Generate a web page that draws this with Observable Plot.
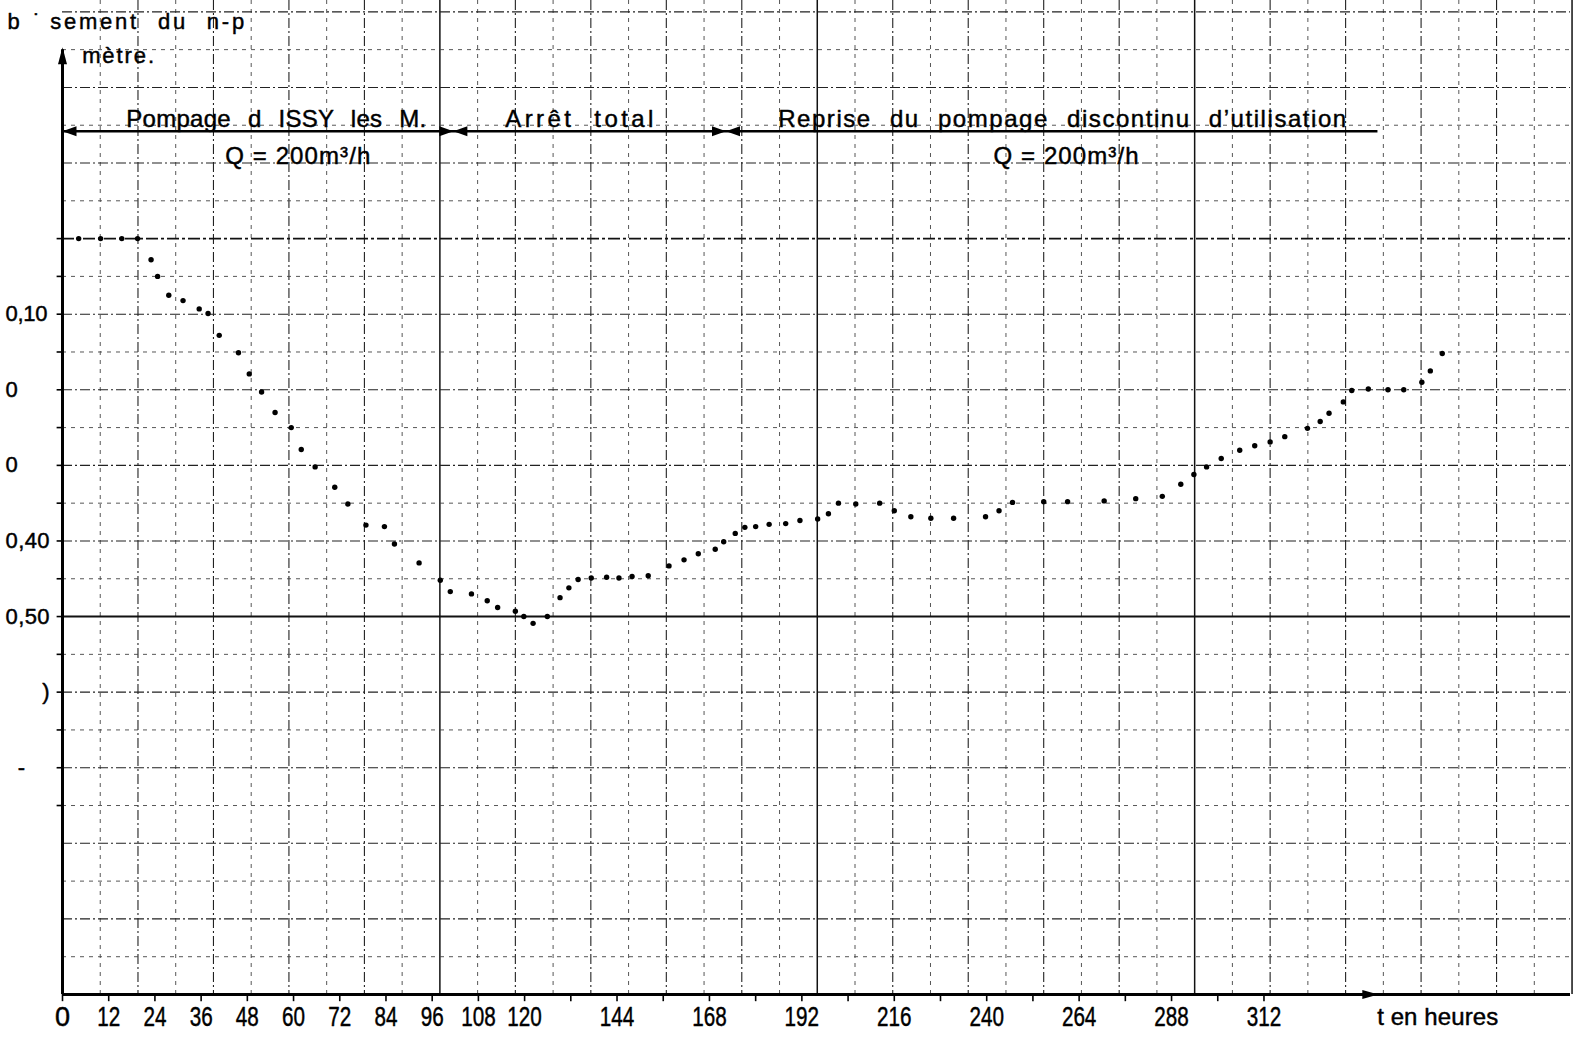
<!DOCTYPE html>
<html>
<head>
<meta charset="utf-8">
<script src="https://cdn.jsdelivr.net/npm/d3@7"></script>
<script src="https://cdn.jsdelivr.net/npm/@observablehq/plot@0.6"></script>
<style>
  html, body { margin: 0; padding: 0; background: #fff; }
  #chart svg { display: block; }
</style>
</head>
<body>
<div id="chart"></div>
<script>
// ---- data (time in hours, drawdown "rabattement" in metres) ----
const hours = [4.2, 9.9, 15.4, 19.5, 23.0, 24.7, 27.6, 31.3, 35.5, 37.8,
  40.7, 45.7, 48.5, 51.7, 55.2, 59.4, 62.0, 65.6, 70.7, 74.1,
  78.8, 83.6, 86.2, 92.6, 98.1, 100.7, 106.2, 110.3, 113.0, 117.6,
  119.8, 122.2, 125.9, 129.2, 131.5, 133.9, 137.3, 141.3, 144.5, 147.9,
  152.1, 157.5, 161.4, 165.1, 169.5, 171.7, 174.7, 177.2, 180.0, 183.5,
  187.8, 191.5, 196.1, 198.9, 201.5, 206.0, 212.2, 216.0, 220.3, 225.5,
  231.4, 239.7, 243.2, 246.7, 254.8, 261.0, 270.5, 278.7, 285.6, 290.4,
  293.8, 297.1, 300.9, 305.7, 309.6, 313.6, 317.4, 323.3, 326.6, 328.9,
  332.6, 334.8, 339.1, 344.2, 348.3, 353.0, 355.2, 358.3];
const drawdown = [0, 0, 0, 0, 0.028, 0.050, 0.075, 0.082, 0.093, 0.099,
  0.128, 0.151, 0.179, 0.203, 0.230, 0.250, 0.279, 0.302, 0.329, 0.351,
  0.379, 0.381, 0.404, 0.429, 0.452, 0.467, 0.470, 0.479, 0.488, 0.493,
  0.500, 0.509, 0.500, 0.475, 0.462, 0.451, 0.449, 0.448, 0.449, 0.447,
  0.446, 0.433, 0.425, 0.417, 0.411, 0.401, 0.390, 0.382, 0.381, 0.378,
  0.377, 0.373, 0.371, 0.364, 0.350, 0.351, 0.350, 0.360, 0.368, 0.370,
  0.370, 0.368, 0.360, 0.349, 0.348, 0.348, 0.347, 0.344, 0.341, 0.325,
  0.312, 0.302, 0.291, 0.280, 0.274, 0.269, 0.262, 0.251, 0.242, 0.231,
  0.216, 0.201, 0.199, 0.200, 0.200, 0.190, 0.175, 0.152];

// x tick marks every 12 h; labels as printed
const xTickHours = d3.range(0, 313, 12);
const xTickLabels = [0, 12, 24, 36, 48, 60, 72, 84, 96, 108, 120, 144, 168, 192, 216, 240, 264, 288, 312];
const xTitle = "t en heures";

// y tick labels as they survive on the scan
const yTickValues = [0.10, 0.20, 0.30, 0.40, 0.50, 0.60, 0.70];
const yTickLabels = ["0,10", "0", "0", "0,40", "0,50", "\u2007\u2007\u2007)", "\u2007-"];
const yTickMarks = d3.range(0, 16).map(i => +(i * 0.05).toFixed(2));

// phases of the test (boundaries in hours) and their labels
const phaseBounds = [0, 101.5, 172.3, 341.6];
const phaseLabels = ["Pompage d ISSY les M.", "Arrêt total", "Reprise du pompage discontinu d\u2019utilisation"];
const phaseLabelAt = [55.5, 134.2, 259.6];
const flowLabels = ["Q = 200m\u00b3/h", "Q = 200m\u00b3/h"];
const flowLabelAt = [61.1, 260.6];

const headerText = ["b", "\u02d9", "sement du n-p"];
const headerAt = [-14.3, -7.6, -3.2];
const unitText = "mètre.";

// graph paper: one cell = 9.8 h by 0.05 m
const cellHours = 9.8, cellMetres = 0.05;
const paperV = d3.range(0, 41).map(i => ({x: i * cellHours, k: i % 10 === 0 ? 2 : i % 2 === 0 ? 1 : 0}));
const paperH = d3.range(-6, 21).map(i => ({y: +(i * cellMetres).toFixed(2), k: i === 0 ? 3 : i % 10 === 0 ? 2 : i % 2 === 0 ? 1 : 0}));

// ---- filled arrowheads ----
function head(dir, L, Wd) {
  return {draw(ctx) {
    ctx.moveTo(0, 0);
    if (dir === "right") { ctx.lineTo(-L, -Wd); ctx.lineTo(-L, Wd); }
    else if (dir === "left") { ctx.lineTo(L, -Wd); ctx.lineTo(L, Wd); }
    else { ctx.lineTo(-Wd, L); ctx.lineTo(Wd, L); }
    ctx.closePath();
  }};
}

const annoY = -0.142, labelY = -0.158, flowY = -0.109;
const txtFont = "'Liberation Sans', 'DejaVu Sans', sans-serif";
const ink = {fill: "#000", stroke: "#000", strokeWidth: 0.45};

const chart = Plot.plot({
  width: 1575,
  height: 1042,
  marginLeft: 62,
  marginRight: 5,
  marginTop: 0,
  marginBottom: 48,
  x: {domain: [0, 391.6], axis: null},
  y: {domain: [-0.315, 1], reverse: true, axis: null},
  style: {background: "#fff", color: "#000", fontFamily: txtFont},
  marks: [
    // graph paper
    Plot.ruleX(paperV.filter(d => d.k === 0), {x: "x", stroke: "#444", strokeWidth: 0.9, strokeDasharray: "4,5"}),
    Plot.ruleX(paperV.filter(d => d.k === 1), {x: "x", stroke: "#222", strokeWidth: 1.1, strokeDasharray: "10,3,2,3"}),
    Plot.ruleX(paperV.filter(d => d.k === 2 && d.x > 0), {x: "x", stroke: "#111", strokeWidth: 1.5}),
    Plot.ruleY(paperH.filter(d => d.k === 0), {y: "y", stroke: "#444", strokeWidth: 0.9, strokeDasharray: "4,5"}),
    Plot.ruleY(paperH.filter(d => d.k === 1), {y: "y", stroke: "#222", strokeWidth: 1.1, strokeDasharray: "10,3,2,3"}),
    Plot.ruleY(paperH.filter(d => d.k === 3), {y: "y", stroke: "#111", strokeWidth: 1.6, strokeDasharray: "12,3,3,3"}),
    Plot.ruleY(paperH.filter(d => d.k === 2 && d.y < 1), {y: "y", stroke: "#111", strokeWidth: 1.9}),

    // axes
    Plot.ruleX([0], {x: d => d, y1: -0.25, y2: 1, stroke: "#000", strokeWidth: 3}),
    Plot.ruleY([1], {y: d => d, stroke: "#000", strokeWidth: 3}),
    Plot.dot([0], {x: d => d, y: () => -0.253, symbol: head("up", 17, 4.5), r: 5, fill: "#000", stroke: "none"}),
    Plot.dot([341.7], {x: d => d, y: () => 1, symbol: head("right", 16, 4.5), r: 5, fill: "#000", stroke: "none"}),
    Plot.ruleX(xTickHours, {x: d => d, y1: 1, y2: 1.0095, stroke: "#000", strokeWidth: 1.6}),
    Plot.ruleY(yTickMarks, {y: d => d, x1: -1.4, x2: 0, stroke: "#000", strokeWidth: 1.6}),
    Plot.text(xTickLabels, {x: d => d, y: () => 1, dy: 23, text: d => String(d), fontSize: 27, ...ink}),
    Plot.text([xTitle], {x: () => 341.4, y: () => 1, dy: 23, textAnchor: "start", fontSize: 24, ...ink}),
    Plot.text(yTickLabels, {x: () => 0, y: yTickValues, dx: -57, textAnchor: "start", fontSize: 22, ...ink}),

    // header (axis title, partly erased on the scan)
    Plot.text(headerText, {x: headerAt, y: () => -0.286, textAnchor: "start", fontSize: 22, ...ink}),
    Plot.text([unitText], {x: () => 5.1, y: () => -0.242, textAnchor: "start", fontSize: 22, ...ink}),

    // phase annotation line with dimension arrows
    Plot.ruleY([annoY], {y: d => d, x1: phaseBounds[0], x2: phaseBounds[3], stroke: "#000", strokeWidth: 2.4}),
    Plot.dot(phaseBounds.slice(0, 3), {x: d => d, y: () => annoY, symbol: head("left", 14, 5), r: 5, fill: "#000", stroke: "none"}),
    Plot.dot(phaseBounds.slice(1, 3), {x: d => d, y: () => annoY, symbol: head("right", 14, 5), r: 5, fill: "#000", stroke: "none"}),
    Plot.text(phaseLabels, {x: phaseLabelAt, y: () => labelY, fontSize: 24, ...ink}),
    Plot.text(flowLabels, {x: flowLabelAt, y: () => flowY, fontSize: 24, ...ink}),

    // measured points
    Plot.dot(hours.map((h, i) => ({h, s: drawdown[i]})), {x: "h", y: "s", r: 2.7, fill: "#000", stroke: "none"})
  ]
});

// stencil lettering on the original is stretched / condensed: fit the texts to the widths they occupy
const wideWords = new Set(["Pompage d ISSY les M.", "Arrêt total", "Reprise du pompage discontinu d\u2019utilisation", "sement du n-p"]);
const textWidths = new Map([
  ["Pompage d ISSY les M.", 300], ["Arrêt total", 148],
  ["Reprise du pompage discontinu d\u2019utilisation", 568],
  ["Q = 200m\u00b3/h", 145],
  ["sement du n-p", 194], ["mètre.", 72], ["t en heures", 121],
  ["0,10", 42], ["0,40", 44], ["0,50", 44]
]);
d3.select(chart).selectAll("text").each(function () {
  const t = this.textContent;
  if (textWidths.has(t)) {
    if (wideWords.has(t)) this.style.wordSpacing = "10px";
    this.setAttribute("textLength", textWidths.get(t));
    this.setAttribute("lengthAdjust", "spacing");
  } else if (/^\d{2,3}$/.test(t)) {
    this.setAttribute("textLength", t.length * 11.5);
    this.setAttribute("lengthAdjust", "spacingAndGlyphs");
  }
});

document.getElementById("chart").appendChild(chart);
</script>
</body>
</html>
